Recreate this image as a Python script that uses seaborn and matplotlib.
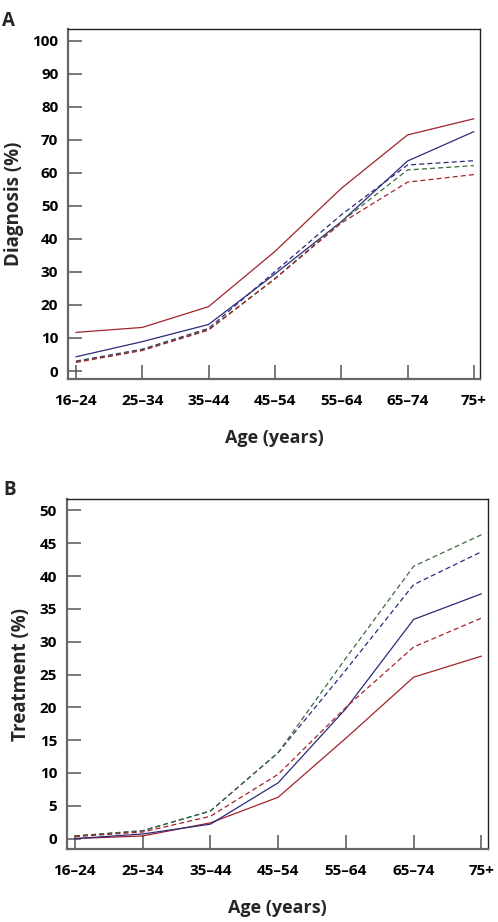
import seaborn as sns
import matplotlib.pyplot as plt
import pandas as pd

ages = ["16–24", "25–34", "35–44", "45–54", "55–64", "65–74", "75+"]

# panel A: diagnosis (%)
diag_red_solid = [11.7, 13.2, 19.5, 36.2, 55.3, 71.5, 76.4]
diag_blue_solid = [4.3, 8.9, 14.1, 29.4, 45.2, 63.6, 72.5]
diag_blue_dash = [3.0, 6.6, 12.9, 30.1, 47.3, 62.4, 63.7]
diag_green_dash = [2.8, 6.4, 12.6, 28.0, 45.2, 60.9, 62.2]
diag_red_dash = [2.6, 6.2, 12.4, 27.9, 44.8, 57.2, 59.5]

# panel B: treatment (%)
treat_red_solid = [0.0, 0.4, 2.4, 6.3, 15.3, 24.6, 27.8]
treat_blue_solid = [0.0, 0.7, 2.2, 8.5, 19.8, 33.4, 37.3]
treat_blue_dash = [0.4, 1.2, 4.2, 13.1, 25.7, 38.7, 43.7]
treat_green_dash = [0.4, 1.2, 4.2, 13.1, 27.5, 41.5, 46.3]
treat_red_dash = [0.3, 1.0, 3.4, 9.8, 20.0, 29.2, 33.6]

RED = "#a3232b"
BLUE = "#2b2b7a"
GREEN = "#3c6b3a"

sns.set_style("ticks")
plt.rcParams['font.family'] = ['Open Sans', 'DejaVu Sans']
plt.rcParams['font.weight'] = 'bold'

fig = plt.figure(figsize=(4.98, 9.22), dpi=100)
axA = fig.add_axes([0.1365, 0.589, 0.827, 0.3796])
axB = fig.add_axes([0.134, 0.0792, 0.845, 0.3793])


def draw(ax, series, ylabel, yticks, ylim):
    for vals, color, dashed in series:
        df = pd.DataFrame({"age": ages, "value": vals})
        ls = (0, (4, 2.5)) if dashed else "-"
        sns.lineplot(data=df, x="age", y="value", color=color, linewidth=0.9,
                     linestyle=ls, ax=ax, sort=False)
    ax.set_xlim(-0.12, 6.09)
    ax.set_ylim(*ylim)
    ax.set_yticks(yticks)
    ax.set_xticks(range(len(ages)))
    ax.set_xticklabels(ages)
    ax.tick_params(axis="both", direction="in", length=10, width=1.1,
                   colors="#555555", labelcolor="black", labelsize=11)
    ax.tick_params(axis="x", pad=11)
    ax.tick_params(axis="y", pad=7)
    for lab in ax.get_xticklabels() + ax.get_yticklabels():
        lab.set_fontweight("bold")
    for side in ["left", "bottom"]:
        ax.spines[side].set_color("#666666")
        ax.spines[side].set_linewidth(1.6)
    for side in ["top", "right"]:
        ax.spines[side].set_color("#222222")
        ax.spines[side].set_linewidth(1.0)
    ax.set_xlabel("Age (years)", fontsize=13, fontweight="bold", labelpad=15)
    ax.set_ylabel(ylabel, fontsize=13.5, fontweight="bold", labelpad=6)


draw(axA, [(diag_red_solid, RED, False), (diag_blue_solid, BLUE, False),
           (diag_blue_dash, BLUE, True), (diag_green_dash, GREEN, True),
           (diag_red_dash, RED, True)],
     "Diagnosis (%)", range(0, 101, 10), (-2.4, 103.6))
draw(axB, [(treat_red_solid, RED, False), (treat_blue_solid, BLUE, False),
           (treat_blue_dash, BLUE, True), (treat_green_dash, GREEN, True),
           (treat_red_dash, RED, True)],
     "Treatment (%)", range(0, 51, 5), (-1.58, 51.7))

fig.text(0.004, 0.988, "A", fontsize=13.5, fontweight="bold", va="top")
fig.text(0.006, 0.479, "B", fontsize=13.5, fontweight="bold", va="top")

fig.savefig("out.png", dpi=100)
